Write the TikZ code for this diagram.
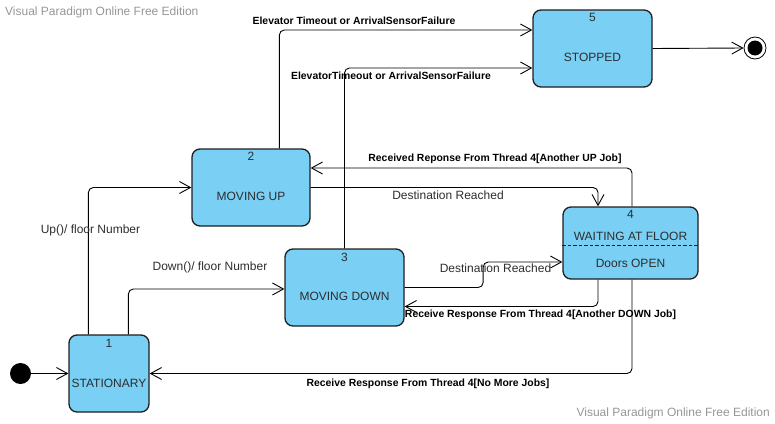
\documentclass[tikz,border=0pt]{standalone}
\usepackage{fontspec}
\setmainfont{Liberation Sans}
\usetikzlibrary{arrows.meta,calc}
\definecolor{stfill}{RGB}{122,207,245}
\definecolor{stdraw}{RGB}{30,30,30}
\definecolor{sttext}{RGB}{45,45,45}
\definecolor{wmark}{RGB}{150,150,150}
\begin{document}
\begin{tikzpicture}[x=1pt,y=-1pt,
  statebox/.style={draw=stdraw,fill=stfill,line width=1.3pt,rounded corners=8pt,inner sep=0pt},
  numtext/.style={font=\fontsize{12}{14}\selectfont,text=sttext,inner sep=0pt},
  nametext/.style={font=\fontsize{12}{14}\selectfont,text=sttext,inner sep=0pt},
  boldlbl/.style={font=\fontsize{10.4}{12}\selectfont\bfseries,text=black,inner sep=0pt},
  plainlbl/.style={font=\fontsize{12}{14}\selectfont,text=sttext,inner sep=0pt},
  wm/.style={font=\fontsize{12}{14}\selectfont,text=wmark,inner sep=0pt},
  conn/.style={draw=black,line width=0.9pt,rounded corners=5pt,-{Straight Barb[length=11pt,width=12pt,line width=0.9pt]}}]
\useasboundingbox (0,0) rectangle (775,423);

% states
\node[statebox,minimum width=80pt,minimum height=77pt] (s1) at (109,373.5) {};
\node[statebox,minimum width=118pt,minimum height=77pt] (s2) at (251,187.5) {};
\node[statebox,minimum width=119pt,minimum height=77pt] (s3) at (344.5,287.5) {};
\node[statebox,minimum width=135pt,minimum height=72pt] (s4) at (630.5,243) {};
\node[statebox,minimum width=119pt,minimum height=77pt] (s5) at (592.5,48.5) {};
\draw[stdraw,line width=0.9pt,dash pattern=on 3.5pt off 2pt] (s4.west |- 0,245) coordinate (d1) -- (s4.east |- 0,245) coordinate (d2);

\node[numtext] (n1) at (109,343) {1};
\node[nametext] (t1) at (109,383) {STATIONARY};
\node[numtext] (n2) at (251,156) {2};
\node[nametext] (t2) at (251,196) {MOVING UP};
\node[numtext] (n3) at (344.5,257) {3};
\node[nametext] (t3) at (344.5,296) {MOVING DOWN};
\node[numtext] (n4) at (630.5,214) {4};
\node[nametext] (t4) at (630.5,236) {WAITING AT FLOOR};
\node[nametext] (u4) at (630.5,263) {Doors OPEN};
\node[numtext] (n5) at (592.5,17) {5};
\node[nametext] (t5) at (592.5,57) {STOPPED};

% initial and final
\node[circle,fill=black,minimum size=21pt,inner sep=0pt] (init) at (20.5,373.5) {};
\node[circle,draw=black,line width=0.8pt,fill=white,minimum size=22pt,inner sep=0pt] (fin) at (755,48) {};
\node[circle,fill=black,minimum size=15pt,inner sep=0pt] (finin) at (755,48) {};

% connectors
\draw[conn] (init) -- (s1.west);
\draw[conn] ([xshift=20pt]s1.north west) |- (s2.west);
\draw[conn] ([xshift=60pt]s1.north west) |- ([yshift=-1.5pt]s3.west);
\draw[conn] ([xshift=88pt]s2.north west) |- ([yshift=18.5pt]s5.west);
\draw[conn] (s3.north) |- ([yshift=-19.5pt]s5.west);
\draw[conn] (s5.east) -- (fin.west);
\draw[conn] ([xshift=1.5pt]s4.north) |- ([yshift=19.5pt]s2.east);
\draw[conn] (s2.east) -| ([xshift=-32.5pt]s4.north);
\draw[conn] (s3.east) -- ++(78.5,0) |- ([yshift=-19pt]s4.west);
\draw[conn] ([xshift=-32.5pt]s4.south) |- ([yshift=-19pt]s3.east);
\draw[conn] ([xshift=1.5pt]s4.south) |- (s1.east);

% labels
\node[boldlbl] (l1) at (354,21) {Elevator Timeout or ArrivalSensorFailure};
\node[boldlbl] (l2) at (391,76) {ElevatorTimeout or ArrivalSensorFailure};
\node[boldlbl] (l3) at (495,159) {Received Reponse From Thread 4[Another UP Job]};
\node[plainlbl] (l4) at (448,195) {Destination Reached};
\node[plainlbl] (l5) at (495.5,268.5) {Destination Reached};
\node[boldlbl] (l6) at (540.5,315) {Receive Response From Thread 4[Another DOWN Job]};
\node[boldlbl] (l7) at (428,384) {Receive Response From Thread 4[No More Jobs]};
\node[plainlbl] (l8) at (90.5,230.5) {Up()/ floor Number};
\node[plainlbl] (l9) at (210,267.5) {Down()/ floor Number};

% watermarks
\node[wm,anchor=west] (w1) at (5,12) {Visual Paradigm Online Free Edition};
\node[wm,anchor=east] (w2) at (770,413) {Visual Paradigm Online Free Edition};
\end{tikzpicture}
\end{document}
